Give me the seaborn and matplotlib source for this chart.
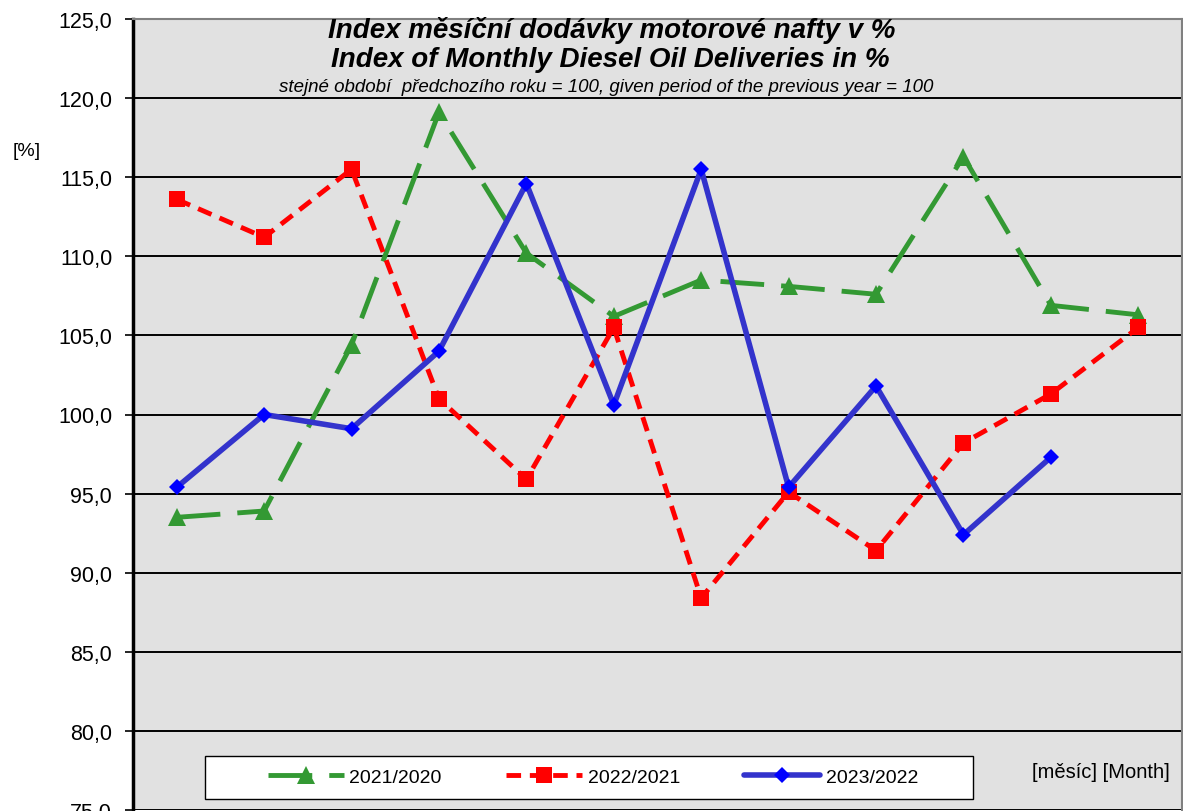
import numpy as np
import pandas as pd
import matplotlib
matplotlib.use("Agg")
import matplotlib.pyplot as plt
from matplotlib.patches import Rectangle
from matplotlib.ticker import FuncFormatter, MultipleLocator
import seaborn as sns

# values (index, same month of previous year = 100)
months = list(range(1, 13))
idx_2021 = [93.5, 93.9, 104.4, 119.1, 110.2, 106.2, 108.5, 108.1, 107.6, 116.3, 106.9, 106.3]
idx_2022 = [113.6, 111.2, 115.5, 101.0, 95.9, 105.5, 88.4, 95.1, 91.4, 98.2, 101.3, 105.5]
idx_2023 = [95.4, 100.0, 99.1, 104.0, 114.6, 100.6, 115.5, 95.4, 101.8, 92.4, 97.3]
series_labels = ["2021/2020", "2022/2021", "2023/2022"]

sns.set_style("white")
plt.rcParams["font.family"] = ["Liberation Sans", "DejaVu Sans"]
plt.rcParams["text.color"] = "black"
plt.rcParams["ytick.color"] = "black"
plt.rcParams["ytick.labelcolor"] = "black"

W, H = 1183, 812
fig = plt.figure(figsize=(W / 100, H / 100), dpi=100)
ax = fig.add_axes([133 / W, 1 - 811 / H, 1049 / W, 791 / H])
ax.set_facecolor("#e1e1e1")

# 2021/2020 - green long dashes with triangles
sns.lineplot(x=months, y=idx_2021, ax=ax, color="#339933", lw=3.5,
             linestyle=(0, (9, 3.5)), marker="^", markersize=13,
             markeredgewidth=0, label=series_labels[0], zorder=3)
# 2022/2021 - red short dashes with squares
sns.lineplot(x=months, y=idx_2022, ax=ax, color="#ff0000", lw=3.5,
             linestyle=(0, (3, 1.8)), marker="s", markersize=12,
             markeredgewidth=0, label=series_labels[1], zorder=4)
# 2023/2022 - blue solid with diamonds
sns.lineplot(x=months[:len(idx_2023)], y=idx_2023, ax=ax, color="#3333cc", lw=4,
             marker="D", markersize=8, markerfacecolor="#0000ff",
             markeredgecolor="#0000ff", markeredgewidth=0,
             label=series_labels[2], zorder=5)

ax.set_xlim(0.5, 12.5)
ax.set_ylim(75, 125)
ax.set_xticks([])
ax.yaxis.set_major_locator(MultipleLocator(5))
ax.yaxis.set_major_formatter(FuncFormatter(lambda v, p: f"{v:.1f}".replace(".", ",")))
ax.tick_params(axis="y", which="major", direction="out", length=6, width=1.2,
               color="black", labelcolor="black", labelsize=15.5, pad=9, left=True)
ax.yaxis.grid(True, color="black", lw=1.4)
ax.xaxis.grid(False)
ax.set_axisbelow(True)
ax.set_xlabel("")
ax.set_ylabel("")

ax.spines["left"].set_color("black")
ax.spines["left"].set_linewidth(2.5)
for s in ["top", "right"]:
    ax.spines[s].set_color("#808080")
    ax.spines[s].set_linewidth(1.5)
ax.spines["bottom"].set_visible(False)

# legend box drawn separately, entries centred inside it like the original
box = Rectangle((205 / W, 1 - 800 / H), (973 - 205) / W, 43 / H,
                transform=fig.transFigure, facecolor="white",
                edgecolor="black", lw=1.0, zorder=9)
ax.add_patch(box)
leg = ax.legend(loc="center", ncol=3,
                bbox_to_anchor=(593 / W, 1 - 778 / H), bbox_transform=fig.transFigure,
                fontsize=14, handlelength=3.9, handletextpad=0.3,
                columnspacing=3.3, frameon=False, borderaxespad=0)
leg.set_zorder(10)

fig.text(612 / W, 1 - 30 / H, "Index měsíční dodávky motorové nafty v %",
         ha="center", va="center", fontsize=20, fontweight="bold", style="italic")
fig.text(610 / W, 1 - 60 / H, "Index of Monthly Diesel Oil Deliveries in %",
         ha="center", va="center", fontsize=20, fontweight="bold", style="italic")
fig.text(606 / W, 1 - 88 / H,
         "stejné období  předchozího roku = 100, given period of the previous year = 100",
         ha="center", va="center", fontsize=13.5, style="italic")
fig.text(27 / W, 1 - 152 / H, "[%]", ha="center", va="center", fontsize=14)
fig.text(1170 / W, 1 - 773 / H, "[měsíc] [Month]", ha="right", va="center",
         fontsize=14.5)

fig.savefig("out.png", dpi=100, facecolor="white")
